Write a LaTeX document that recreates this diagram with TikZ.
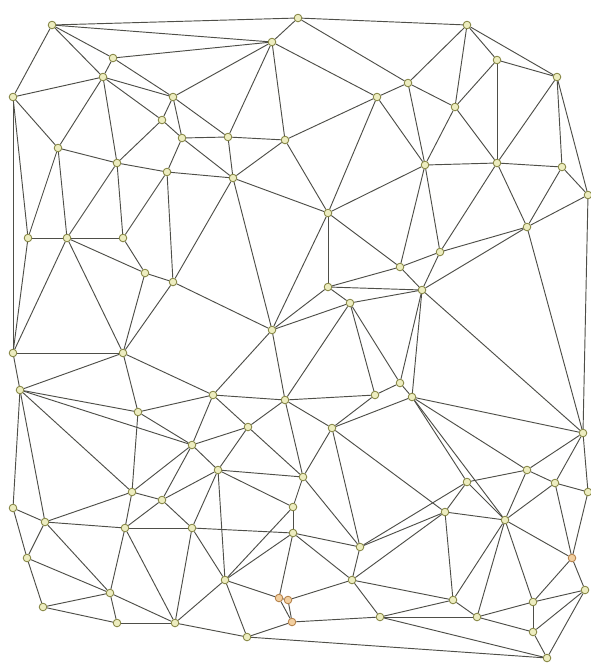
\documentclass[tikz,border=0pt]{standalone}
\usetikzlibrary{backgrounds}
\definecolor{edgecol}{HTML}{4E4E48}
\definecolor{ptdraw}{HTML}{7E7E3A}
\definecolor{ptfill}{HTML}{EDEDC0}
\definecolor{ordraw}{HTML}{B07A40}
\definecolor{orfill}{HTML}{F2CFA0}
\tikzset{
  pt/.style={circle,draw=ptdraw,fill=ptfill,line width=0.7pt,inner sep=0pt,minimum size=6.5pt},
  opt/.style={pt,draw=ordraw,fill=orfill},
  edge/.style={draw=edgecol,line width=0.8pt}
}
\begin{document}
\begin{tikzpicture}[x=0.03cm,y=-0.03cm]
\path[use as bounding box] (0,0) rectangle (591,666);
\foreach \n/\x/\y in {1/52/25,2/298/18,3/467/25,4/113/58,5/272/42,6/497/60,7/557/77,8/13/97,9/103/77,10/173/97,
 11/162/120,12/182/138,13/377/97,14/408/83,15/455/107,16/58/148,17/117/163,18/167/172,19/228/137,20/285/140,
 21/233/178,22/328/213,23/425/165,24/497/163,25/562/167,26/28/238,27/67/238,28/123/238,29/145/273,30/173/282,
 31/527/227,32/440/252,33/400/267,34/422/290,35/328/287,36/350/303,37/272/330,38/123/353,39/13/353,40/20/390,
 41/213/395,42/285/400,43/375/395,44/400/383,45/412/397,46/138/412,47/192/445,48/248/427,49/332/428,50/583/433,
 51/132/492,52/162/500,53/13/508,54/45/522,55/125/528,56/192/528,57/27/558,58/110/593,59/43/607,60/117/623,
 61/175/623,62/218/470,63/303/477,64/293/507,65/293/533,66/225/580,69/247/637,70/352/580,
 71/360/547,72/527/470,73/555/483,74/467/482,75/445/512,76/505/520,78/453/600,79/477/617,80/533/602,
 81/533/632,82/547/658,83/588/195,84/380/617,85/588/492,86/585/590}
  \node[pt] (a\n) at (\x,\y) {};
\foreach \n/\x/\y in {67/288/600,68/292/622,77/572/558,87/279/598}
  \node[opt] (a\n) at (\x,\y) {};
\begin{scope}[on background layer]
\foreach \a/\b in {1/2,1/5,1/8,1/9,1/4,4/5,4/9,4/10,2/5,2/3,2/14,5/13,5/10,5/19,5/20,
 8/9,8/16,8/26,8/39,9/10,9/11,9/16,9/17,10/11,10/12,10/19,11/12,11/17,12/19,12/18,12/21,
 17/18,16/17,18/21,19/20,19/21,20/21,20/22,20/13,13/14,13/22,13/23,3/14,3/15,3/6,3/7,
 14/15,14/23,15/6,15/24,15/23,6/7,6/24,7/24,7/25,7/83,23/24,23/22,23/33,23/32,
 24/25,24/32,24/31,25/31,25/83,83/31,83/50,
 16/26,16/27,17/27,17/28,18/28,18/30,26/27,26/39,27/28,27/29,27/38,27/39,28/29,
 29/30,29/38,30/21,30/37,30/38,21/37,21/22,22/37,22/35,22/33,35/36,35/37,35/33,35/34,
 36/37,36/34,36/43,36/42,36/44,32/33,32/34,32/31,33/34,31/34,31/50,34/50,34/44,34/45,
 37/41,37/42,38/39,38/40,38/41,38/46,39/40,40/46,40/47,40/51,40/54,40/53,41/46,41/42,41/48,41/47,
 42/43,42/48,42/49,42/63,43/44,43/49,44/45,45/50,45/49,46/47,46/51,
 47/48,47/51,47/52,47/62,48/62,48/63,49/63,49/71,49/75,51/52,51/54,51/55,52/55,52/56,52/62,
 53/54,53/57,54/55,54/57,54/58,55/56,55/58,55/61,56/61,56/62,56/66,56/65,57/58,57/59,
 58/59,58/60,58/61,59/60,60/61,61/66,61/69,62/63,62/64,62/66,63/64,63/71,64/65,64/66,
 65/66,65/87,65/71,65/70,66/87,66/69,87/67,87/68,67/68,67/70,68/69,68/84,69/82,
 70/71,70/84,70/78,71/75,71/74,45/74,45/72,45/76,50/72,50/73,50/85,72/73,72/74,72/76,
 73/76,73/85,73/77,74/75,74/76,75/76,75/78,75/70,76/77,76/78,76/79,76/80,
 77/80,77/85,77/86,78/79,78/84,79/80,79/81,79/84,80/81,80/86,81/82,81/86,82/86,82/84}
  \draw[edge] (a\a) -- (a\b);
\end{scope}
\end{tikzpicture}
\end{document}
